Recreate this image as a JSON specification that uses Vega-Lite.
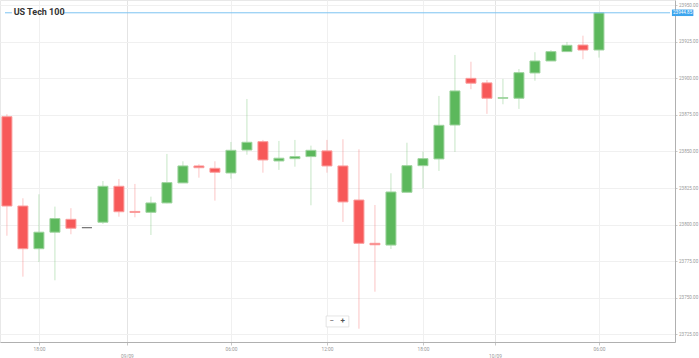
{
  "$schema": "https://vega.github.io/schema/vega-lite/v6.json",
  "width": 675,
  "height": 342,
  "autosize": "none",
  "padding": {"left": 0, "top": 0, "right": 24, "bottom": 16},
  "background": "white",
  "config": {
    "view": {"stroke": "#e8e8e8"},
    "font": "Roboto",
    "axis": {"labelOverlap": false, "labelFlush": false, "labelBound": false, "labelSeparation": 0}
  },
  "datasets": {
    "candles": [
      {"i": 0, "open": 23873.8, "high": 23875.5, "low": 23792.4, "close": 23812.7},
      {"i": 1, "open": 23812.7, "high": 23818.0, "low": 23764.4, "close": 23783.5},
      {"i": 2, "open": 23783.5, "high": 23820.7, "low": 23774.4, "close": 23794.8},
      {"i": 3, "open": 23794.8, "high": 23812.3, "low": 23761.9, "close": 23804.1},
      {"i": 4, "open": 23803.6, "high": 23811.2, "low": 23793.4, "close": 23797.5},
      {"i": 5, "open": 23797.9, "high": 23797.9, "low": 23797.9, "close": 23797.9},
      {"i": 6, "open": 23801.6, "high": 23829.8, "low": 23800.4, "close": 23826.2},
      {"i": 7, "open": 23826.2, "high": 23831.2, "low": 23805.4, "close": 23808.8},
      {"i": 8, "open": 23809.0, "high": 23827.8, "low": 23805.0, "close": 23808.3},
      {"i": 9, "open": 23808.4, "high": 23819.1, "low": 23792.9, "close": 23814.8},
      {"i": 10, "open": 23814.8, "high": 23848.3, "low": 23814.5, "close": 23828.7},
      {"i": 11, "open": 23828.5, "high": 23843.3, "low": 23828.5, "close": 23840.1},
      {"i": 12, "open": 23840.1, "high": 23841.3, "low": 23832.1, "close": 23838.9},
      {"i": 13, "open": 23838.5, "high": 23843.3, "low": 23816.4, "close": 23835.8},
      {"i": 14, "open": 23835.3, "high": 23856.5, "low": 23831.4, "close": 23850.8},
      {"i": 15, "open": 23851.0, "high": 23885.9, "low": 23847.8, "close": 23856.3},
      {"i": 16, "open": 23856.7, "high": 23857.9, "low": 23835.5, "close": 23844.2},
      {"i": 17, "open": 23843.5, "high": 23857.2, "low": 23837.4, "close": 23845.4},
      {"i": 18, "open": 23845.1, "high": 23857.9, "low": 23839.6, "close": 23846.5},
      {"i": 19, "open": 23846.5, "high": 23854.0, "low": 23813.2, "close": 23850.8},
      {"i": 20, "open": 23850.4, "high": 23857.9, "low": 23835.5, "close": 23840.1},
      {"i": 21, "open": 23840.1, "high": 23858.4, "low": 23801.8, "close": 23815.5},
      {"i": 22, "open": 23816.8, "high": 23851.5, "low": 23728.8, "close": 23787.2},
      {"i": 23, "open": 23787.2, "high": 23813.4, "low": 23754.1, "close": 23786.2},
      {"i": 24, "open": 23786.0, "high": 23835.1, "low": 23783.3, "close": 23822.3},
      {"i": 25, "open": 23822.1, "high": 23856.0, "low": 23822.1, "close": 23840.3},
      {"i": 26, "open": 23840.3, "high": 23849.9, "low": 23824.8, "close": 23845.1},
      {"i": 27, "open": 23844.9, "high": 23888.0, "low": 23836.7, "close": 23867.9},
      {"i": 28, "open": 23868.1, "high": 23916.0, "low": 23849.7, "close": 23891.4},
      {"i": 29, "open": 23900.0, "high": 23911.4, "low": 23892.6, "close": 23896.7},
      {"i": 30, "open": 23896.9, "high": 23898.9, "low": 23875.7, "close": 23886.4},
      {"i": 31, "open": 23886.4, "high": 23899.6, "low": 23882.3, "close": 23886.8},
      {"i": 32, "open": 23886.4, "high": 23906.4, "low": 23879.1, "close": 23903.9},
      {"i": 33, "open": 23903.7, "high": 23917.9, "low": 23898.4, "close": 23911.9},
      {"i": 34, "open": 23911.9, "high": 23919.4, "low": 23911.9, "close": 23918.3},
      {"i": 35, "open": 23918.3, "high": 23924.9, "low": 23918.3, "close": 23922.6},
      {"i": 36, "open": 23922.8, "high": 23929.2, "low": 23913.1, "close": 23919.4},
      {"i": 37, "open": 23919.4, "high": 23944.85, "low": 23914.2, "close": 23944.85}
    ]
  },
  "data": {"name": "candles"},
  "encoding": {
    "x": {
      "field": "i", "type": "quantitative",
      "scale": {"domain": [-0.12, 41.44], "nice": false, "zero": false},
      "axis": {
        "values": [2, 7.5, 14, 20, 26, 30.5, 37],
        "labelExpr": "datum.value == 2 || datum.value == 26 ? '18:00' : (datum.value == 14 || datum.value == 37) ? '06:00' : datum.value == 20 ? '12:00' : datum.value == 7.5 ? ['', '09/09'] : ['', '10/09']",
        "title": null,
        "grid": true,
        "gridColor": {"condition": {"test": "datum.value == 7.5 || datum.value == 30.5", "value": "#e4e4e4"}, "value": "#f0f0f0"},
        "domainColor": "#b0b0b0",
        "tickColor": "#c8c8c8",
        "tickSize": 3,
        "labelFontSize": 4.8,
        "labelColor": "#999999",
        "labelFont": "Roboto",
        "labelLineHeight": 6.5,
        "labelPadding": 1.5,
        "labelOverlap": false,
        "labelFlush": false,
        "labelBound": false
      }
    },
    "y": {
      "field": "low", "type": "quantitative",
      "scale": {"domain": [23719.7, 23953.6], "nice": false, "zero": false},
      "axis": {
        "orient": "right",
        "values": [23725, 23750, 23775, 23800, 23825, 23850, 23875, 23900, 23925, 23950],
        "format": ".2f",
        "title": null,
        "grid": true,
        "gridColor": "#f0f0f0",
        "domainColor": "#b0b0b0",
        "tickColor": "#c8c8c8",
        "tickSize": 2,
        "labelFontSize": 4.6,
        "labelColor": "#999999",
        "labelFont": "Roboto",
        "labelPadding": 1.5,
        "labelOverlap": false,
        "labelFlush": false,
        "labelBound": false
      }
    }
  },
  "layer": [
    {
      "mark": {"type": "rule", "strokeWidth": 1, "opacity": 0.35},
      "encoding": {
        "y2": {"field": "high"},
        "color": {
          "condition": [
            {"test": "datum.close > datum.open", "value": "#5cb85c"},
            {"test": "datum.close < datum.open", "value": "#f75959"}
          ],
          "value": "#777777"
        }
      }
    },
    {
      "mark": {"type": "bar", "size": 10, "strokeWidth": 1},
      "encoding": {
        "y": {"field": "open", "type": "quantitative"},
        "y2": {"field": "close"},
        "fill": {
          "condition": [
            {"test": "datum.close > datum.open", "value": "#5cb85c"},
            {"test": "datum.close < datum.open", "value": "#f75959"}
          ],
          "value": "#777777"
        },
        "stroke": {
          "condition": [
            {"test": "datum.close > datum.open", "value": "#9fd49f"},
            {"test": "datum.close < datum.open", "value": "#fa9c9c"}
          ],
          "value": "#777777"
        }
      }
    },
    {
      "transform": [{"filter": "datum.i == 37"}],
      "mark": {"type": "rule", "color": "#7cc3f2", "strokeWidth": 1},
      "encoding": {
        "x": {"datum": -0.12, "type": "quantitative"},
        "x2": {"datum": 0.31},
        "y": {"field": "close", "type": "quantitative"}
      }
    },
    {
      "transform": [{"filter": "datum.i == 37"}],
      "mark": {"type": "rule", "color": "#7cc3f2", "strokeWidth": 1},
      "encoding": {
        "x": {"datum": 3.51, "type": "quantitative"},
        "x2": {"datum": 41.44},
        "y": {"field": "close", "type": "quantitative"}
      }
    },
    {
      "transform": [{"filter": "datum.i == 37"}],
      "mark": {"type": "rule", "color": "#3da5ee", "strokeWidth": 6.5, "clip": false},
      "encoding": {
        "x": {"datum": 41.56, "type": "quantitative"},
        "x2": {"datum": 42.9},
        "y": {"field": "close", "type": "quantitative"}
      }
    },
    {
      "transform": [{"filter": "datum.i == 37"}],
      "mark": {"type": "text", "color": "white", "fontSize": 4.6, "font": "Roboto", "align": "center", "baseline": "middle", "clip": false},
      "encoding": {
        "x": {"datum": 42.23, "type": "quantitative"},
        "y": {"field": "close", "type": "quantitative"},
        "text": {"field": "close", "type": "quantitative", "format": ".2f"}
      }
    },
    {
      "transform": [{"filter": "datum.i == 37"}],
      "mark": {"type": "text", "text": "US Tech 100", "color": "#333333", "fontSize": 9, "fontWeight": "bold", "font": "Roboto", "align": "left", "baseline": "middle"},
      "encoding": {
        "x": {"datum": 0.42, "type": "quantitative"},
        "y": {"datum": 23945.6, "type": "quantitative"}
      }
    },
    {
      "transform": [{"filter": "datum.i == 37"}],
      "mark": {"type": "rect", "fill": "white", "stroke": "#dddddd", "strokeWidth": 0.8},
      "encoding": {
        "x": {"datum": 19.95, "type": "quantitative"},
        "x2": {"datum": 21.37},
        "y": {"datum": 23737.5, "type": "quantitative"},
        "y2": {"datum": 23730.0}
      }
    },
    {
      "transform": [{"filter": "datum.i == 37"}],
      "mark": {"type": "text", "text": "−", "color": "#555555", "fontSize": 8, "font": "Roboto", "align": "center", "baseline": "middle"},
      "encoding": {
        "x": {"datum": 20.3, "type": "quantitative"},
        "y": {"datum": 23734.1, "type": "quantitative"}
      }
    },
    {
      "transform": [{"filter": "datum.i == 37"}],
      "mark": {"type": "text", "text": "+", "color": "#555555", "fontSize": 8, "font": "Roboto", "fontWeight": "bold", "align": "center", "baseline": "middle"},
      "encoding": {
        "x": {"datum": 20.98, "type": "quantitative"},
        "y": {"datum": 23734.1, "type": "quantitative"}
      }
    }
  ]
}
